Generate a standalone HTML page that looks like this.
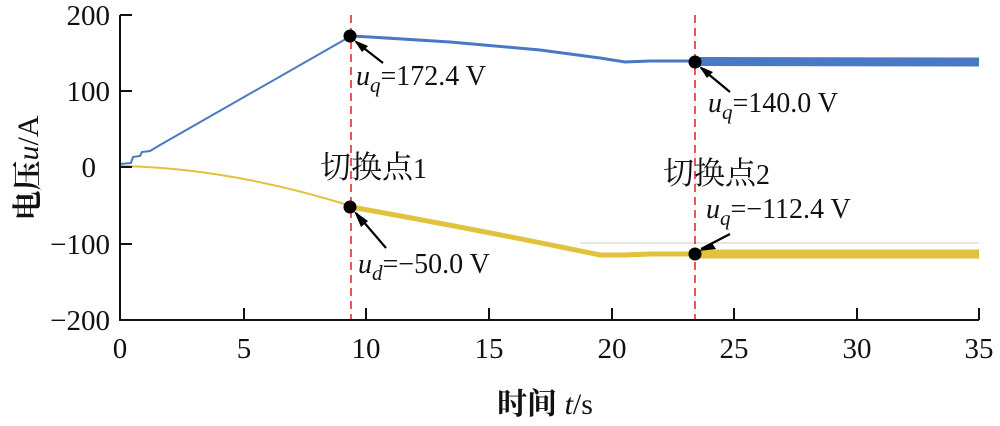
<!DOCTYPE html>
<html><head><meta charset="utf-8"><style>
html,body{margin:0;padding:0;background:#fff;width:1000px;height:426px;overflow:hidden}
svg text{font-family:"Liberation Serif","Noto Serif CJK SC",serif;fill:#111}
</style></head><body>
<svg width="1000" height="426" viewBox="0 0 1000 426" xmlns="http://www.w3.org/2000/svg">
<line x1="580" y1="243" x2="979" y2="243" stroke="#ddd" stroke-width="1.5"/>
<path d="M120,164 L131,163 L133,157 L140,156 L142,152 L150,151 L160,145 L351,36" fill="none" stroke="#4a78c4" stroke-width="2"/>
<path d="M351,36 L370,37 L450,42 L540,50 L600,58 L625,62 L650,61 L695,61" fill="none" stroke="#4a78c4" stroke-width="3"/>
<path d="M695,61.5 L979,62" fill="none" stroke="#4a78c4" stroke-width="9"/>
<path d="M120,166 Q230,168 351,206" fill="none" stroke="#e2c13c" stroke-width="2"/>
<path d="M351,207 Q480,230 600,255 L625,255 L650,254 L695,254" fill="none" stroke="#e2c13c" stroke-width="5"/>
<path d="M695,254 L979,254" fill="none" stroke="#e2c13c" stroke-width="9"/>
<line x1="351" y1="15" x2="351" y2="320" stroke="#e02020" stroke-width="1.5" stroke-dasharray="8,5"/>
<line x1="695" y1="15" x2="695" y2="320" stroke="#e02020" stroke-width="1.5" stroke-dasharray="8,5"/>
<g stroke="#111" stroke-width="2" fill="none">
<path d="M120,15 V320 H979"/>
<path d="M120,15 H132 M120,91 H132 M120,167 H132 M120,244 H132"/>
<path d="M244,320 V308 M366,320 V308 M489,320 V308 M612,320 V308 M734,320 V308 M857,320 V308 M979,320 V308"/>
</g>
<g font-size="29" text-anchor="end">
<text x="110" y="25">200</text><text x="110" y="101">100</text><text x="96" y="177">0</text>
<text x="110" y="254">−100</text><text x="110" y="330">−200</text>
</g>
<g font-size="29" text-anchor="middle">
<text x="120" y="358">0</text><text x="244" y="358">5</text><text x="366" y="358">10</text><text x="489" y="358">15</text>
<text x="612" y="358">20</text><text x="734" y="358">25</text><text x="857" y="358">30</text><text x="979" y="358">35</text>
</g>
<text x="545" y="414" font-size="30" text-anchor="middle" font-weight="bold">时间 <tspan font-style="italic" font-weight="normal">t</tspan><tspan font-weight="normal">/s</tspan></text>
<text transform="translate(38,168) rotate(-90)" font-size="30" text-anchor="middle" font-weight="bold">电压<tspan font-style="italic" font-weight="normal">u</tspan><tspan font-weight="normal">/A</tspan></text>
<g fill="#000"><circle cx="350" cy="36" r="6.5"/><circle cx="350" cy="207" r="6.5"/><circle cx="695" cy="62" r="6.5"/><circle cx="695" cy="254" r="6.5"/></g>
<g stroke="#000" stroke-width="2.2">
<line x1="356" y1="42" x2="383" y2="63"/><line x1="356" y1="213" x2="386" y2="248"/>
<line x1="701" y1="68" x2="730" y2="92"/><line x1="701" y1="249" x2="730" y2="234"/>
</g>
<g fill="#000">
<path d="M354,40 L368,46 L362,52 Z"/><path d="M354,211 L368,221 L361,227 Z"/>
<path d="M699,66 L713,72 L707,78 Z"/><path d="M699,251 L712,243 L716,249 Z"/>
</g>
<g font-size="28">
<text x="356" y="85"><tspan font-style="italic">u</tspan><tspan font-style="italic" font-size="21" dy="7">q</tspan><tspan dy="-7">=172.4 V</tspan></text>
<text x="708" y="112"><tspan font-style="italic">u</tspan><tspan font-style="italic" font-size="21" dy="7">q</tspan><tspan dy="-7">=140.0 V</tspan></text>
<text x="706" y="218"><tspan font-style="italic">u</tspan><tspan font-style="italic" font-size="21" dy="7">q</tspan><tspan dy="-7">=−112.4 V</tspan></text>
<text x="358" y="273"><tspan font-style="italic">u</tspan><tspan font-style="italic" font-size="21" dy="7">d</tspan><tspan dy="-7">=−50.0 V</tspan></text>
<text x="320" y="178"><tspan font-size="31">切换点</tspan>1</text>
<text x="663" y="184"><tspan font-size="31">切换点</tspan>2</text>
</g>
</svg>
</body></html>
